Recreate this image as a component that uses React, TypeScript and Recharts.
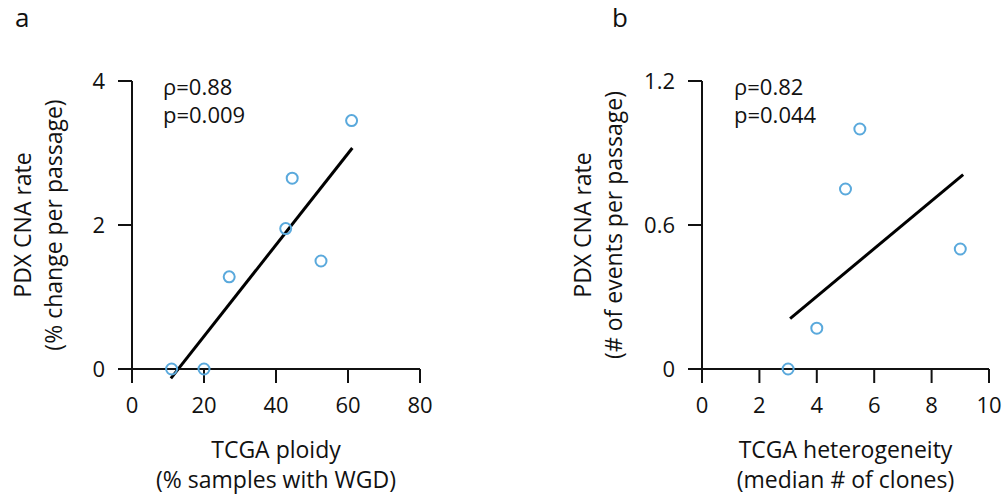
import React from 'react';
import { ScatterChart, Scatter, XAxis, YAxis, ReferenceLine } from 'recharts';

// Panel a: TCGA ploidy vs PDX CNA rate
const ploidyX = [11, 20, 27, 42.7, 44.5, 52.5, 61];
const ploidyY = [0, 0, 1.28, 1.95, 2.65, 1.5, 3.45];
const ploidyFit = [
  { x: 10.8, y: -0.13 },
  { x: 61.2, y: 3.07 },
];
const ploidyTicksX = [0, 20, 40, 60, 80];
const ploidyTicksY = [0, 2, 4];

// Panel b: TCGA heterogeneity vs PDX CNA rate
const heteroX = [3, 4, 5, 5.5, 9];
const heteroY = [0, 0.17, 0.75, 1.0, 0.5];
const heteroFit = [
  { x: 3.07, y: 0.21 },
  { x: 9.1, y: 0.81 },
];
const heteroTicksX = [0, 2, 4, 6, 8, 10];
const heteroTicksY = [0, 0.6, 1.2];

const FONT = '"Open Sans", "Noto Sans", sans-serif';
const FS = 22;
const TITLE_FS = 23;
const BLUE = '#5aa9dc';

const Ring = (props: any) => (
  <circle cx={props.cx} cy={props.cy} r={5.5} fill="none" stroke={BLUE} strokeWidth={2} />
);

interface PanelProps {
  letter: string;
  xs: number[];
  ys: number[];
  fit: { x: number; y: number }[];
  ticksX: number[];
  ticksY: number[];
  yTitle: string[];
  xTitle: string[];
  stats: string[];
  width: number;
  marginLeft: number;
  marginRight: number;
  letterX: number;
  yTitleX: number[];
  statsX: number;
}

const Panel: React.FC<PanelProps> = (p) => {
  const data = p.xs.map((x, i) => ({ x, y: p.ys[i] }));
  const plotLeft = p.marginLeft + 40;
  const plotRight = p.width - p.marginRight;
  const midX = (plotLeft + plotRight) / 2;
  const midY = (81 + 369) / 2;
  const tickStyle = { fontFamily: FONT, fontSize: FS, fill: '#111' };
  return (
    <ScatterChart
      width={p.width}
      height={495}
      margin={{ top: 81, right: p.marginRight, bottom: 86, left: p.marginLeft }}
    >
      <XAxis
        type="number"
        dataKey="x"
        domain={[p.ticksX[0], p.ticksX[p.ticksX.length - 1]]}
        ticks={p.ticksX}
        height={40}
        tickSize={14}
        tickMargin={14}
        tick={tickStyle}
        axisLine={{ stroke: '#111', strokeWidth: 2 }}
        tickLine={{ stroke: '#111', strokeWidth: 2 }}
      />
      <YAxis
        type="number"
        dataKey="y"
        domain={[p.ticksY[0], p.ticksY[p.ticksY.length - 1]]}
        ticks={p.ticksY}
        width={40}
        tickSize={14}
        tickMargin={13}
        tick={tickStyle}
        axisLine={{ stroke: '#111', strokeWidth: 2 }}
        tickLine={{ stroke: '#111', strokeWidth: 2 }}
      />
      <ReferenceLine
        segment={p.fit}
        ifOverflow="visible"
        stroke="#000"
        strokeWidth={3}
      />
      <Scatter data={data} shape={Ring} isAnimationActive={false} />
      <text x={p.letterX} y={27} fontFamily={FONT} fontSize={26} fill="#111">
        {p.letter}
      </text>
      <text x={p.statsX} y={95} fontFamily={FONT} fontSize={FS} fill="#111">
        {p.stats[0]}
      </text>
      <text x={p.statsX} y={123} fontFamily={FONT} fontSize={FS} fill="#111">
        {p.stats[1]}
      </text>
      {p.yTitle.map((t, i) => (
        <text
          key={t}
          x={p.yTitleX[i]}
          y={midY}
          transform={`rotate(-90 ${p.yTitleX[i]} ${midY})`}
          textAnchor="middle"
          dominantBaseline="central"
          fontFamily={FONT}
          fontSize={TITLE_FS}
          fill="#111"
        >
          {t}
        </text>
      ))}
      {p.xTitle.map((t, i) => (
        <text
          key={t}
          x={midX}
          y={449 + i * 30}
          textAnchor="middle"
          dominantBaseline="central"
          fontFamily={FONT}
          fontSize={TITLE_FS}
          fill="#111"
        >
          {t}
        </text>
      ))}
    </ScatterChart>
  );
};

export default function App() {
  return (
    <div style={{ position: 'absolute', left: 0, top: 0, width: 1007, height: 495, background: '#fff' }}>
      <div style={{ position: 'absolute', left: 0, top: 0 }}>
        <Panel
          letter="a"
          xs={ploidyX}
          ys={ploidyY}
          fit={ploidyFit}
          ticksX={ploidyTicksX}
          ticksY={ploidyTicksY}
          yTitle={['PDX CNA rate', '(% change per passage)']}
          xTitle={['TCGA ploidy', '(% samples with WGD)']}
          stats={['ρ=0.88', 'p=0.009']}
          width={440}
          marginLeft={92}
          marginRight={20}
          letterX={15}
          yTitleX={[22, 53]}
          statsX={163}
        />
      </div>
      <div style={{ position: 'absolute', left: 520, top: 0 }}>
        <Panel
          letter="b"
          xs={heteroX}
          ys={heteroY}
          fit={heteroFit}
          ticksX={heteroTicksX}
          ticksY={heteroTicksY}
          yTitle={['PDX CNA rate', '(# of events per passage)']}
          xTitle={['TCGA heterogeneity', '(median # of clones)']}
          stats={['ρ=0.82', 'p=0.044']}
          width={487}
          marginLeft={142}
          marginRight={18}
          letterX={92}
          yTitleX={[62, 93]}
          statsX={214}
        />
      </div>
    </div>
  );
}
